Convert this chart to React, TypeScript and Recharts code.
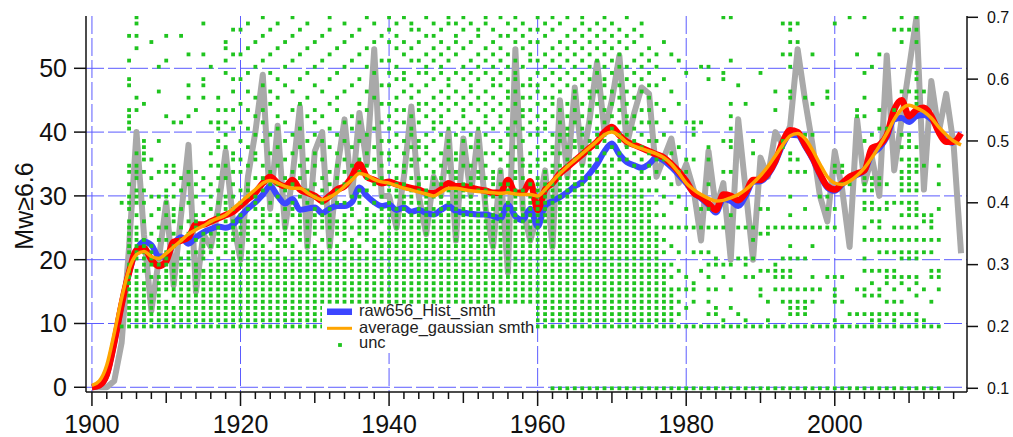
import React from "react";
import { ComposedChart, Line, Scatter, XAxis, YAxis, CartesianGrid } from "recharts";

const FONT = '"Liberation Sans", Arial, Helvetica, sans-serif';

// ---- data ----
const FIRST_YEAR = 1900; // series below run 1900..2017

const grayAnnual = [
  0, 0, 0, 1, 7, 22, 40, 24, 12, 20,
  29, 16, 27, 38, 15, 24, 22, 28, 37, 26,
  20, 33, 40, 49, 28, 41, 25, 33, 44, 22,
  37, 40, 22, 34, 42, 30, 43, 35, 53, 30,
  30, 25, 33, 44, 30, 24, 33, 30, 40, 23,
  39, 30, 40, 28, 22, 34, 18, 53, 28, 23,
  27, 34, 22, 45, 33, 47, 35, 42, 51, 40,
  45, 52, 38, 43, 47, 46, 33, 36, 39, 32,
  35, 31, 23, 37, 28, 32, 20, 42, 31, 20,
  36, 33, 40, 38, 41, 53, 45, 38, 30, 26,
  37, 31, 22, 42, 32, 36, 30, 52, 34, 42,
  50, 58, 31, 48, 40, 46, 38, 21,
];

const redSmooth = [
  0, 0.3, 2, 7, 13, 18, 21.5, 21.8, 20, 19,
  19.8, 22.8, 23, 23.5, 25.5, 25.5, 26, 26.5, 27, 27.5,
  28.5, 29.5, 30.5, 32, 33, 32, 31.5, 32.5, 31, 30.5,
  30, 29.2, 30, 31, 31.5, 33, 35, 33, 32.5, 32,
  32.2, 31.8, 31.5, 31.2, 31, 30.5, 30.4, 31, 32, 31.5,
  31.5, 31.3, 31, 30.8, 30.5, 30.5, 32.5, 30.5, 30.5, 32.3,
  27.8, 31, 32, 33.5, 34.5, 35.5, 36.5, 37.5, 38.5, 40,
  40.8, 39.5, 38.5, 38, 37.5, 37, 36.5, 36, 35, 33.8,
  32.3, 30.5, 29.8, 28.8, 27.8, 30.2, 30, 29.3, 30.5, 32.5,
  32.5, 33.5, 35.5, 38.5, 40.3, 40, 38, 36, 33.5, 31.5,
  31, 32, 33, 33.5, 34, 37.5, 38, 39.5, 43.5, 45,
  42.5, 43.5, 43.8, 42.5, 40, 38.5, 38.5, 39.8,
];

const blueHistSmth = [
  0, 0.3, 2, 7, 13, 18, 21.5, 22.8, 22.3, 20.5,
  20.5, 22.5, 23.5, 22.5, 23.5, 24.3, 24.8, 25.2, 25, 25.5,
  26.8, 28, 29, 30.2, 31.5, 30, 28.8, 29.5, 27.8, 28,
  28.2, 27.3, 28, 28.4, 28.4, 29, 31.3, 30, 29, 28.4,
  28.6, 27.8, 28.2, 27.5, 27.8, 27.3, 27.1, 27.8, 28.4, 27.6,
  27.4, 27.2, 27.1, 27.1, 26.8, 26.5, 28.6, 26.8, 26.2, 28,
  25.2, 28.4, 29.2, 29.8, 30.6, 31.5, 32.2, 33.5, 35, 37,
  38.2, 36.5, 35.3, 34.8, 34.4, 35, 36, 35.5, 34.5, 33.3,
  32, 30.5, 29.6, 28.6, 27.4, 29.5, 29.2, 28.4, 30, 32.2,
  32.3, 33.3, 35.3, 38, 39.6, 39.5, 37.8, 35.8, 33.3, 31.3,
  30.8, 31.8, 32.8, 33.3, 34, 36.5, 37.5, 39.2, 42, 42.2,
  41.6, 42.5, 42.7, 42, 40.5, 38.6, 38.3, null,
];

const orangeGauss = [
  0.3, 1, 3.5, 8.5, 14, 18.5, 20.8, 21.3, 20.5, 20.2,
  21, 22, 23, 24, 24.7, 25.3, 26, 26.5, 27, 28,
  29, 30, 31, 32, 32.4, 32, 31.5, 31.2, 31.2, 30.5,
  29.8, 29.4, 29.8, 30.5, 31.5, 32.5, 33.5, 33.2, 32.6, 32.2,
  32, 31.6, 31.2, 30.9, 30.6, 30.3, 30, 30.6, 31.2, 31.2,
  31, 30.8, 30.7, 30.6, 30.5, 30.4, 30.5, 30.3, 30.2, 30.2,
  30, 31, 32.3, 33.5, 34.6, 35.6, 36.6, 37.6, 38.6, 39.6,
  40, 39.4, 38.4, 37.8, 37.4, 37, 36.6, 36, 35, 33.6,
  32, 31, 30.2, 29.6, 29.2, 29.3, 29.7, 30.2, 31, 32,
  33.2, 34.6, 36.3, 38, 39.4, 39.8, 39, 37.2, 35, 33,
  32, 31.8, 32.3, 33.2, 34.4, 36, 37.8, 39.8, 42, 43.6,
  44.2, 43.8, 43.2, 42.2, 40.8, 39.6, 38.6, 38,
];

// unc dots: per year, occupied levels in hundredths (ranges inclusive), above the 0.20 row
const uncColumns: [number, string][] = [
  [1904, "40"],
  [1905, "21-30,32-37,39-41,43,45,46,52-55,59,60,63,67"],
  [1906, "21-29,31-36,38,40-42,44-46,48,55,57,65,67,69,70"],
  [1907, "21-27,29-34,37,40,42,45,47-50,56"],
  [1908, "21-25,28,30-33,35,38,41,44,47,66"],
  [1909, "21-28,30,31,34,36,39,41,45,50,58,62"],
  [1910, "21-24,26-32,34,36,38,40-42,45,46,54,63,67"],
  [1911, "21-23,25-30,33,35,37-39,41,43,45,46,53"],
  [1912, "21-31,34,36,39,42,44,53,67"],
  [1913, "21-28,30-32,35,37,40,43,45,54,57,59,64"],
  [1914, "21-30,32,34,36-38,41,43,45,55"],
  [1915, "21-29,31-35,38,40,42,44,57,59,60,64,69"],
  [1916, "21-30,32,33,35,37,39,41,43,46,48,53,62"],
  [1917, "21-31,33-36,38,40,42,44,46,49,50,52,53,55,57"],
  [1918, "21-30,32-35,37,39-41,44,46,49,51,53,55,61,63,65,66"],
  [1919, "21-32,34-37,39,41,43,45,47,48,52,55,58,60,64,68"],
  [1920, "21-33,35-38,40,42,45,47,50,53,56,60,64,68"],
  [1921, "21-32,34-37,39,41-43,46,49,52,55,58,61,65,69"],
  [1922, "21-34,36,37,39-41,44,47,48,51,54,57,62,66"],
  [1923, "21-33,35-39,42,44,46,50,53,55,59,63,67,70"],
  [1924, "21-32,34-36,38,40,43,45,48,51,56,58,61,64,68"],
  [1925, "21-34,36-38,41,43,46,49,52,54,57,60,65,69"],
  [1926, "21-31,33-37,39,42,44,47,50,53,59,62,66"],
  [1927, "21-33,35,36,38-40,43,45,48,51,55,58,63,67,70"],
  [1928, "21-32,34-38,41,44,46,49,52,56,60,64,68"],
  [1929, "21-34,36,37,40,42,45,47,50,54,57,61,65,69"],
  [1930, "21-33,35-39,41,43,46,48,51,53,55,59,62,66"],
  [1931, "21-32,34,36-38,40,42,44,47,50,54,58,63,67"],
  [1932, "21-34,36-39,41,43,45,49,52,56,60,64,68,70"],
  [1933, "21-33,35-37,40,42,44,46,48,51,55,57,61,65"],
  [1934, "21-32,34-38,40,43,45,47,50,53,58,62,66,69"],
  [1935, "21-34,36,38,39,41,44,46,49,52,54,59,63,67"],
  [1936, "21-33,35-37,40-42,45,47,50,53,56,60,64,68"],
  [1937, "21-32,34-39,42,44,46,48,51,55,58,62,65,70"],
  [1938, "21-34,36-38,40,43,45,47,49,52,57,61,66,69"],
  [1939, "21-35,37-39,41,44,46,48,50,53,56,59,63,67"],
  [1940, "21-40,42,43,45,47,48,50,52,54,56,59,61,63,66,68,70"],
  [1941, "21-39,41-44,46,49,51,53,55,57,60,62,65,67,69"],
  [1942, "21-41,43,45,46,48,50,53,55,58,60,61,64,66,70"],
  [1943, "21-38,40-42,44,46,47,49,51,52,54,57,59,63,65,68,69"],
  [1944, "21-40,42-44,47,49,50,53,55,56,58,61,63,66,68"],
  [1945, "21-42,44,46,48,49,51,54,56,59,61,62,64,67,70"],
  [1946, "21-39,41,43-45,47,50,52,53,55,57,60,63,65,67,69"],
  [1947, "21-41,43,44,46,48,51,53,54,56,58,61,62,64,66,68"],
  [1948, "21-40,42,45,47,49,50,52,55,57,59,60,63,65,69,70"],
  [1949, "21-42,44,45,47,48,51,53,56,58,61,64,66,67,69"],
  [1950, "21-39,41-43,46,48,50,52,54,55,57,60,62,65,68,70"],
  [1951, "21-41,43,44,46,49,51,53,56,58,59,61,63,66,69"],
  [1952, "21-40,42,44,45,47,49,50,52,55,57,60,62,64,67,68"],
  [1953, "21-42,44,46,48,51,53,54,56,58,61,63,65,69,70"],
  [1954, "21-39,41,43-45,48,50,52,55,57,59,60,62,64,66,68"],
  [1955, "21-41,43,45,47,49,50,53,54,56,59,61,63,65,67,70"],
  [1956, "21-40,42,43,46,48,51,52,55,57,58,60,62,64,67,69"],
  [1957, "21-42,44,45,47,49,51,53,56,58,60,61,63,66,68,70"],
  [1958, "21-40,42,44,46,47,50,52,54,55,57,59,62,65,67,69"],
  [1959, "21-41,43,45,46,48,51,53,55,57,59,60,63,64,66,68"],
  [1960, "21-44,46,47,49,51,52,54,56,58,59,61,63,66,68,70"],
  [1961, "21-45,47,48,50,52,53,55,57,60,62,64,67,69"],
  [1962, "21-43,45,46,48,49,51,54,56,57,59,61,63,65,68,70"],
  [1963, "21-46,48,50,51,53,55,58,60,62,64,66,69"],
  [1964, "21-44,46,47,49,51,52,54,56,59,61,63,65,67,70"],
  [1965, "21-45,47,49,50,53,55,57,58,60,62,64,66,68"],
  [1966, "21-46,48,49,51,52,54,56,59,61,63,65,67,69,70"],
  [1967, "21-44,46-48,50,53,55,57,58,60,62,64,66,68"],
  [1968, "21-45,47,49,51,52,54,56,58,61,63,65,67,69"],
  [1969, "21-46,48,50,51,53,55,57,59,60,62,64,66,68,70"],
  [1970, "21-44,46,47,49,52,54,56,58,61,63,65,67,69"],
  [1971, "21-45,47,48,50,51,53,55,57,59,62,64,66,68"],
  [1972, "21-43,45,47,49,51,53,54,56,58,60,62,65,67,70"],
  [1973, "21-44,46,48,50,52,54,57,59,61,63,66,68"],
  [1974, "21-42,44,45,47,49,51,53,55,58,60,62,64,67,69"],
  [1975, "21-40,42,44,46,48,50,53,55,57,59,61,63,65"],
  [1976, "21-36,38,40,42,45,47,50,53,56,59,62,64"],
  [1977, "21-30,32,34,36,38,41,44,47,51,55,60,66"],
  [1978, "21-26,28,30,33,36,40,43,48,53,58,64"],
  [1979, "22,24,26,29,32,36,41,45,49,56,63"],
  [1980, "23,26,28,36,39,45,47,53,61"],
  [1981, "24,26,27,32,36,47,51,52,53"],
  [1982, "29,32,36,39,53,62"],
  [1983, "22,24,26,28,30,32,36,39,43,47,49,60,62"],
  [1984, "22,23,26,30,31,36"],
  [1985, "21,28,30,36,45,50,60,61,70"],
  [1986, "23,26,30,38,45,49,50,52,54,56,63,70"],
  [1987, "22,31,36,59"],
  [1988, "21,28,30,31,36,56"],
  [1989, "28,31,34,36,48,50"],
  [1990, "25,26,29,35,39,61"],
  [1991, "21,24,29,35,36,39"],
  [1992, "26,28,29,30,36,55,58"],
  [1993, "24,26,28,29,31,36,49,50,64,69"],
  [1994, "22-24,26,28,29,31,33,36,38,41,45,47,48,57,58,62,64,66,68,69"],
  [1995, "22-24,26,31,36,45,47,66,69"],
  [1996, "22-24,26,31,36,39,45,51,57"],
  [1997, "24,26,28,33,36,51,56,64"],
  [1998, "26,36,41"],
  [1999, "28,36,39,41,57,58"],
  [2000, "21,24-26,28,36,39,45,46,69"],
  [2001, "24,28,43,45,46"],
  [2002, "22,43,70"],
  [2003, "22,26,54,55,64"],
  [2004, "22,25,26,29,31,34,36,39,40,42-44,50,54,57,61,70"],
  [2005, "21,22,25,27,29,34,37,39,40,42-44,51,62"],
  [2006, "21,22,25,26,29,32,34,36,37,39,43,44,52,55,64"],
  [2007, "22,24,27-29,32,34,39,40,43,52"],
  [2008, "21,22,24,26,28,29,32,34,36,40,55,68"],
  [2009, "22,24,27,28,31,32,34,36,38,40,42-45,47,49,51,58,66,68,70"],
  [2010, "22,26,28,31,32,34,36,38-40,42-47,49-51,58,68"],
  [2011, "21,22,25,27,28,31,32,34,36,38-40,42,43,45-47,49,56-58,60,61,66,68,70"],
  [2012, "21,26,32,34,37,38,46,58"],
  [2013, "24,28,29,32,34,36-38"],
  [2014, "26,28,29,34,39,43,46"],
];
const uncRow020Years: [number, number] = [1904, 2014]; // full row at 0.20
const uncRow010Years: [number, number] = [1962, 2014]; // full row at 0.10

// ticks
const leftTicks = [0, 10, 20, 30, 40, 50];
const rightTicks = [0.1, 0.2, 0.3, 0.4, 0.5, 0.6, 0.7];
const xLabelYears = [1900, 1920, 1940, 1960, 1980, 2000];
const xMinorTicks = [
  1900, 1902, 1904, 1906, 1908, 1910, 1912, 1914, 1916, 1918,
  1920, 1922, 1924, 1926, 1928, 1930, 1932, 1934, 1936, 1938,
  1940, 1942, 1944, 1946, 1948, 1950, 1952, 1954, 1956, 1958,
  1960, 1962, 1964, 1966, 1968, 1970, 1972, 1974, 1976, 1978,
  1980, 1982, 1984, 1986, 1988, 1990, 1992, 1994, 1996, 1998,
  2000, 2002, 2004, 2006, 2008, 2010, 2012, 2014, 2016,
];
const legendLabels = ["raw656_Hist_smth", "average_gaussian smth", "unc"];

// ---- build tables ----
const lineData = grayAnnual.map((g, i) => ({
  year: FIRST_YEAR + i,
  gray: g,
  red: redSmooth[i],
  blue: blueHistSmth[i],
  orange: orangeGauss[i],
}));

function parseLevels(s: string): number[] {
  const out: number[] = [];
  if (!s) return out;
  for (const part of s.split(",")) {
    const bits = part.split("-");
    const a = Number(bits[0]);
    if (bits.length === 1) out.push(a);
    else {
      const b = Number(bits[1]);
      for (let v = a; v <= b; v++) out.push(v);
    }
  }
  return out;
}

const uncData: { year: number; unc: number }[] = [];
for (let y = uncRow020Years[0]; y <= uncRow020Years[1]; y++) uncData.push({ year: y, unc: 0.2 });
for (let y = uncRow010Years[0]; y <= uncRow010Years[1]; y++) uncData.push({ year: y, unc: 0.1 });
for (const [yr, s] of uncColumns) {
  for (const lv of parseLevels(s)) uncData.push({ year: yr, unc: lv / 100 });
}

// ---- rendering helpers ----
const AXIS = "#111";
const GRID = "#5b5bff";
const GREEN = "#1fc41f";
const BLUE = "#3c46ff";
const ORANGE = "#ffa500";

const XTick = (props: any) => {
  const { x, y, payload } = props;
  const v = payload.value as number;
  const major = xLabelYears.indexOf(v) >= 0;
  const mid = v % 20 === 10;
  const len = major ? 14 : mid ? 11 : 7;
  return (
    <g>
      <line x1={x} x2={x} y1={y} y2={y + len} stroke={AXIS} strokeWidth={1.5} />
      {major && (
        <text x={x} y={y + 41} textAnchor="middle" fontSize={25} fill={AXIS} fontFamily={FONT}>
          {v}
        </text>
      )}
    </g>
  );
};

const YLabel = (props: any) => {
  const vb = props.viewBox || { x: 0, y: 16, width: 86, height: 376 };
  const cx = vb.x + 33;
  const cy = vb.y + vb.height / 2 + 2;
  return (
    <text
      transform={`translate(${cx},${cy}) rotate(-90)`}
      textAnchor="middle"
      fontSize={25}
      fill={AXIS}
      fontFamily={FONT}
    >
      Mw≥6.6
    </text>
  );
};

const Dot = (p: any) => (
  <rect x={p.cx - 1.9} y={p.cy - 1.9} width={3.8} height={3.8} fill={GREEN} />
);

export default function App() {
  return (
    <div style={{ position: "absolute", left: 0, top: 0, width: 1013, height: 437, background: "#fff" }}>
      <ComposedChart
        width={1013}
        height={437}
        data={lineData}
        margin={{ top: 16, right: 0, bottom: 0, left: 0 }}
      >
        <CartesianGrid
          xAxisId="x"
          yAxisId="left"
          stroke={GRID}
          strokeWidth={1}
          strokeDasharray="18 4"
          horizontalValues={leftTicks}
          verticalValues={xLabelYears}
        />
        <XAxis
          xAxisId="x"
          dataKey="year"
          type="number"
          domain={[1899.2, 2017.8]}
          allowDataOverflow
          ticks={xMinorTicks}
          interval={0}
          tickLine={false}
          tickSize={0}
          tickMargin={0}
          height={45}
          axisLine={{ stroke: AXIS, strokeWidth: 1.5 }}
          tick={<XTick />}
        />
        <YAxis
          yAxisId="left"
          orientation="left"
          width={86}
          type="number"
          domain={[-0.74, 58.2]}
          allowDataOverflow
          ticks={leftTicks}
          interval={0}
          tickSize={12}
          tickMargin={7}
          axisLine={{ stroke: AXIS, strokeWidth: 1.5 }}
          tickLine={{ stroke: AXIS, strokeWidth: 1.5 }}
          tick={{ fontSize: 25, fill: AXIS, fontFamily: FONT }}
          label={<YLabel />}
        />
        <YAxis
          yAxisId="right"
          orientation="right"
          width={46}
          type="number"
          domain={[0.094, 0.7021]}
          allowDataOverflow
          ticks={rightTicks}
          interval={0}
          tickSize={11}
          tickMargin={9}
          axisLine={{ stroke: AXIS, strokeWidth: 1.5 }}
          tickLine={{ stroke: AXIS, strokeWidth: 1.5 }}
          tick={{ fontSize: 16, fill: AXIS, fontFamily: FONT }}
        />
        <Line
          xAxisId="x"
          yAxisId="left"
          dataKey="gray"
          type="linear"
          stroke="#a9a9a9"
          strokeWidth={6}
          strokeLinejoin="round"
          dot={false}
          activeDot={false}
          isAnimationActive={false}
        />
        <Line
          xAxisId="x"
          yAxisId="left"
          dataKey="blue"
          type="monotone"
          stroke={BLUE}
          strokeWidth={6}
          strokeLinejoin="round"
          dot={false}
          activeDot={false}
          isAnimationActive={false}
        />
        <Line
          xAxisId="x"
          yAxisId="left"
          dataKey="red"
          type="monotone"
          stroke="#ff0000"
          strokeWidth={6.5}
          strokeLinejoin="round"
          dot={false}
          activeDot={false}
          isAnimationActive={false}
        />
        <Scatter
          xAxisId="x"
          yAxisId="right"
          data={uncData}
          dataKey="unc"
          shape={Dot}
          isAnimationActive={false}
        />
        <Line
          xAxisId="x"
          yAxisId="left"
          dataKey="orange"
          type="monotone"
          stroke={ORANGE}
          strokeWidth={3.5}
          strokeLinejoin="round"
          dot={false}
          activeDot={false}
          isAnimationActive={false}
          {...({ zIndex: 650 } as any)}
        />
      </ComposedChart>
      <div
        style={{
          position: "absolute",
          left: 322,
          top: 304,
          width: 214,
          height: 49,
          background: "#fff",
        }}
      />
      <svg
        width={240}
        height={64}
        style={{ position: "absolute", left: 322, top: 296, overflow: "visible" }}
      >
        <rect x={5} y={12.5} width={25} height={6.5} fill={BLUE} />
        <text x={37} y={20} fontSize={16.5} fill="#222" fontFamily={FONT}>
          {legendLabels[0]}
        </text>
        <rect x={5} y={30.8} width={25} height={3} fill={ORANGE} />
        <text x={37} y={36.7} fontSize={16.5} fill="#222" fontFamily={FONT}>
          {legendLabels[1]}
        </text>
        <rect x={16.1} y={47.1} width={3.8} height={3.8} fill={GREEN} />
        <text x={37} y={52.3} fontSize={16.5} fill="#222" fontFamily={FONT}>
          {legendLabels[2]}
        </text>
      </svg>
    </div>
  );
}
